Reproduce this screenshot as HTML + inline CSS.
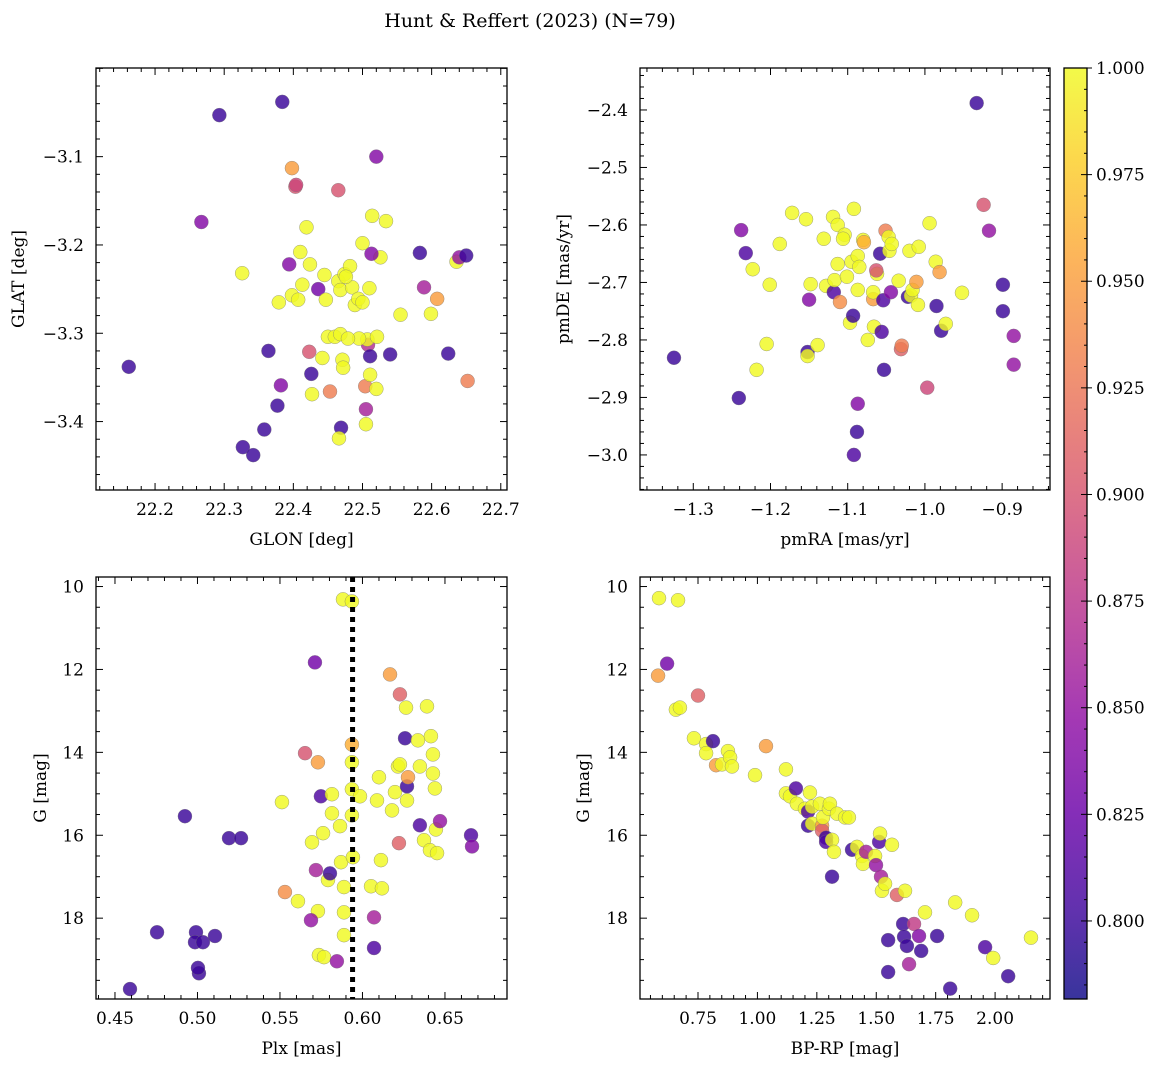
<!DOCTYPE html>
<html><head><meta charset="utf-8"><style>
html,body{margin:0;padding:0;background:#fff;}
svg{display:block;font-family:"DejaVu Serif","Liberation Serif",serif;}
</style></head><body>
<svg id="fig" width="1161" height="1067" viewBox="0 0 1161 1067" xmlns="http://www.w3.org/2000/svg">
<text x="530" y="27" font-size="19" text-anchor="middle">Hunt &amp; Reffert (2023) (N=79)</text>
</svg>
<script>
// Panel 1: GLON / GLAT
const glon=[22.162,22.293,22.384,22.267,22.326,22.398,22.403,22.404,22.394,22.379,22.398,22.407,22.410,22.413,22.419,22.424,22.436,22.445,22.447,22.465,22.465,22.468,22.474,22.482,22.485,22.476,22.450,22.460,22.468,22.453,22.471,22.472,22.423,22.426,22.427,22.442,22.382,22.377,22.364,22.358,22.327,22.342,22.469,22.466,22.505,22.505,22.504,22.511,22.520,22.508,22.511,22.507,22.540,22.520,22.514,22.526,22.534,22.513,22.510,22.500,22.489,22.495,22.521,22.555,22.583,22.589,22.599,22.608,22.636,22.640,22.650,22.624,22.652,22.494,22.479,22.500];
const glat=[-3.338,-3.053,-3.038,-3.174,-3.232,-3.113,-3.134,-3.132,-3.222,-3.265,-3.257,-3.262,-3.208,-3.245,-3.180,-3.222,-3.250,-3.234,-3.262,-3.138,-3.241,-3.251,-3.233,-3.224,-3.248,-3.236,-3.304,-3.304,-3.301,-3.366,-3.330,-3.339,-3.321,-3.346,-3.369,-3.328,-3.359,-3.382,-3.320,-3.409,-3.429,-3.438,-3.407,-3.419,-3.403,-3.386,-3.360,-3.347,-3.363,-3.313,-3.326,-3.307,-3.324,-3.100,-3.167,-3.214,-3.173,-3.210,-3.249,-3.198,-3.268,-3.306,-3.304,-3.279,-3.209,-3.248,-3.278,-3.261,-3.219,-3.214,-3.212,-3.323,-3.354,-3.261,-3.306,-3.265];
const prob1=[.80,.80,.80,.84,1,.95,.90,.89,.84,1,1,1,1,1,1,1,.83,1,1,.90,1,1,1,1,1,1,1,1,1,.93,1,1,.90,.80,1,1,.84,.80,.80,.80,.80,.80,.80,1,1,.86,.93,1,1,.87,.80,1,.80,.84,1,1,1,.84,1,1,1,1,1,1,.80,.86,1,.95,1,.85,.80,.80,.93,1,1,1];
// Panel 2: pmRA / pmDE
const pmra=[-1.325,-1.241,-1.238,-1.232,-1.223,-1.218,-1.205,-1.201,-1.188,-1.172,-1.154,-1.150,-1.148,-1.152,-1.152,-1.139,-1.131,-1.128,-1.119,-1.118,-1.117,-1.113,-1.113,-1.110,-1.104,-1.101,-1.106,-1.095,-1.097,-1.093,-1.092,-1.087,-1.087,-1.088,-1.092,-1.087,-1.080,-1.085,-1.079,-1.074,-1.067,-1.066,-1.062,-1.067,-1.063,-1.058,-1.056,-1.054,-1.051,-1.053,-1.047,-1.046,-1.043,-1.044,-1.034,-1.031,-1.030,-1.022,-1.020,-1.018,-1.016,-1.008,-1.011,-1.009,-0.997,-0.994,-0.986,-0.985,-0.981,-0.979,-0.973,-0.952,-0.933,-0.924,-0.917,-0.899,-0.899,-0.885,-0.885];
const pmde=[-2.831,-2.901,-2.609,-2.649,-2.677,-2.852,-2.807,-2.704,-2.633,-2.579,-2.590,-2.730,-2.703,-2.821,-2.828,-2.809,-2.624,-2.706,-2.586,-2.717,-2.696,-2.600,-2.668,-2.734,-2.617,-2.690,-2.624,-2.664,-2.770,-2.758,-2.572,-2.654,-2.713,-2.960,-3.000,-2.911,-2.626,-2.673,-2.630,-2.800,-2.729,-2.777,-2.685,-2.717,-2.679,-2.650,-2.786,-2.731,-2.610,-2.852,-2.621,-2.645,-2.633,-2.717,-2.697,-2.816,-2.810,-2.725,-2.645,-2.723,-2.713,-2.638,-2.699,-2.739,-2.883,-2.597,-2.664,-2.741,-2.682,-2.784,-2.772,-2.718,-2.388,-2.565,-2.610,-2.704,-2.750,-2.793,-2.843];
const prob2=[.80,.80,.84,.81,1,1,1,1,1,1,1,.84,1,.80,1,1,1,1,1,.81,1,1,1,.94,1,1,1,1,1,.80,1,1,1,.80,.81,.84,1,1,.96,1,.95,1,1,1,.90,.80,.81,.81,.93,.80,1,1,1,.84,1,.91,.93,.80,1,1,1,1,.95,1,.89,1,1,.80,.95,.80,1,1,.80,.90,.85,.80,.80,.85,.85];
// Panel 3: Plx / G
const plx=[.4591,.4755,.4924,.4991,.4985,.5009,.5003,.5033,.5106,.5191,.5264,.5512,.5530,.5609,.5652,.5712,.5730,.5748,.5761,.5694,.5718,.5730,.5688,.5736,.5767,.5791,.5803,.5815,.5815,.5864,.5870,.5845,.5882,.5888,.5888,.5888,.5936,.5936,.5936,.5936,.5936,.5942,.5985,.6052,.6070,.6070,.6088,.6100,.6112,.6118,.6167,.6179,.6197,.6215,.6227,.6221,.6227,.6264,.6258,.6270,.6270,.6276,.6336,.6348,.6348,.6373,.6391,.6415,.6427,.6427,.6439,.6409,.6452,.6445,.6470,.6658,.6664];
const gmag3=[19.71,18.34,15.54,18.34,18.58,19.33,19.20,18.58,18.43,16.07,16.07,15.20,17.37,17.59,14.02,11.83,14.24,15.06,15.95,16.17,16.84,17.83,18.05,18.89,18.94,17.08,16.92,15.01,15.47,15.78,16.65,19.04,10.31,17.25,17.86,18.41,10.36,13.81,14.24,14.89,15.52,16.53,15.06,17.23,17.98,18.72,15.16,14.60,16.60,17.28,12.12,15.40,14.96,14.34,14.29,16.19,12.60,12.92,13.66,14.82,15.16,14.60,13.71,14.34,15.76,16.12,12.89,13.61,14.05,14.51,14.87,16.36,16.43,15.86,15.66,16.00,16.27];
const prob3=[.80,.80,.80,.80,.80,.80,.80,.80,.80,.80,.80,1,.94,1,.90,.83,.95,.81,1,1,.86,1,.85,1,1,1,.80,1,1,1,1,.85,1,1,1,1,1,.96,1,1,1,1,1,1,.86,.81,1,1,1,1,.95,1,1,1,1,.91,.91,1,.80,.80,1,.95,1,1,.81,1,1,1,1,1,1,1,1,1,.85,.81,.84];
// Panel 4: BP-RP / G
const bprp=[.586,.666,.582,.620,.750,.657,.674,.733,.784,.813,.784,.826,.851,.876,.885,.893,.990,1.036,1.120,1.120,1.137,1.162,1.166,1.200,1.213,1.221,1.230,1.213,1.230,1.263,1.272,1.272,1.276,1.289,1.301,1.305,1.289,1.314,1.314,1.322,1.335,1.369,1.385,1.398,1.419,1.440,1.444,1.457,1.495,1.499,1.512,1.516,1.520,1.524,1.537,1.550,1.550,1.566,1.587,1.613,1.621,1.617,1.629,1.638,1.659,1.680,1.689,1.705,1.756,1.811,1.832,1.903,1.958,1.992,2.055,2.151];
const gmag4=[10.28,10.33,12.15,11.86,12.63,12.97,12.92,13.66,13.80,13.73,14.02,14.31,14.29,13.97,14.12,14.34,14.55,13.85,14.41,14.99,15.06,14.87,15.24,15.36,15.43,14.97,15.31,15.77,15.72,15.24,15.77,15.89,15.57,16.06,15.36,15.24,16.16,16.11,17.00,16.40,15.48,15.57,15.57,16.35,16.28,16.50,16.69,16.40,16.50,16.72,16.16,15.96,17.00,17.34,17.17,18.53,19.30,16.23,17.44,18.14,17.34,18.45,18.67,19.11,18.14,18.43,18.79,17.86,18.43,19.70,17.62,17.93,18.70,18.96,19.40,18.47];
const prob4=[1,1,.95,.83,.91,1,1,1,1,.80,1,.95,1,1,1,1,1,.95,1,1,1,.81,1,1,.81,1,1,.80,1,1,.95,.91,1,.80,1,1,.81,1,.80,1,1,1,1,.80,1,1,1,.86,1,.85,.81,1,.86,1,1,.80,.80,1,.91,.80,1,.80,.80,.86,.88,.84,.80,1,.80,.80,1,1,.81,1,.80,1];
const plxLine=0.594;
const cbMin=0.7817, cbMax=1.0;
const cbTicks=[0.800,0.825,0.850,0.875,0.900,0.925,0.950,0.975,1.000];

const NS="http://www.w3.org/2000/svg";
const svg=document.getElementById('fig');
function mk(tag,attrs,parent){const e=document.createElementNS(NS,tag);for(const k in attrs)e.setAttribute(k,attrs[k]);(parent||svg).appendChild(e);return e;}
const stops=['#0d0887','#41049d','#6a00a8','#8f0da4','#b12a90','#cc4778','#e16462','#f2844b','#fca636','#fcce25','#f0f921'];
function hex(h){return [parseInt(h.substr(1,2),16),parseInt(h.substr(3,2),16),parseInt(h.substr(5,2),16)];}
function plasma(t){t=Math.max(0,Math.min(1,t));const f=t*10,i=Math.min(9,Math.floor(f)),r=f-i;const a=hex(stops[i]),b=hex(stops[i+1]);return 'rgb('+a.map((v,k)=>Math.round(v+(b[k]-v)*r)).join(',')+')';}
function col(p){return plasma((p-cbMin)/(cbMax-cbMin));}
function fmt(v,d){return (v<0?'\u2212':'')+Math.abs(v).toFixed(d);}

function panel(cfg){
  const g=mk('g',{});
  
  
  const [L,T,R,B]=cfg.box;
  const sx=v=>L+(v-cfg.xd[0])/(cfg.xd[1]-cfg.xd[0])*(R-L);
  const sy=cfg.yinv?(v=>T+(v-cfg.yd[0])/(cfg.yd[1]-cfg.yd[0])*(B-T)):(v=>B-(v-cfg.yd[0])/(cfg.yd[1]-cfg.yd[0])*(B-T));
  const cp='clip-'+cfg.name;
  const cl=mk('clipPath',{id:cp},g);mk('rect',{x:L,y:T,width:R-L,height:B-T},cl);
  const pts=mk('g',{'clip-path':'url(#'+cp+')'},g);
  
  
  for(let i=0;i<cfg.xs.length;i++){
    const c=mk('circle',{cx:sx(cfg.xs[i]),cy:sy(cfg.ys[i]),r:7,fill:col(cfg.ps[i]),'fill-opacity':0.82,stroke:'#777','stroke-width':0.5,'stroke-opacity':0.7},pts);
    
    
  }
  if(cfg.vline!==undefined){
    const ln=mk('line',{x1:sx(cfg.vline),x2:sx(cfg.vline),y1:T,y2:B,stroke:'#000','stroke-width':5,'stroke-dasharray':'5,5'},pts);
    
    
  }
  // ticks
  const tk=mk('g',{stroke:'#000','stroke-width':1},g);
  const eps=1e-9;
  for(let v=Math.ceil(cfg.xd[0]/cfg.xmin-eps)*cfg.xmin;v<=cfg.xd[1]+eps;v+=cfg.xmin){
    const x=sx(v);const major=Math.abs(v/cfg.xmaj-Math.round(v/cfg.xmaj))<1e-6;const len=major?7:4;
    mk('line',{x1:x,x2:x,y1:B,y2:B-len},tk);mk('line',{x1:x,x2:x,y1:T,y2:T+len},tk);
  }
  for(let v=Math.ceil(cfg.yd[0]/cfg.ymin-eps)*cfg.ymin;v<=cfg.yd[1]+eps;v+=cfg.ymin){
    const y=sy(v);const major=Math.abs(v/cfg.ymaj-Math.round(v/cfg.ymaj))<1e-6;const len=major?7:4;
    mk('line',{x1:L,x2:L+len,y1:y,y2:y},tk);mk('line',{x1:R,x2:R-len,y1:y,y2:y},tk);
  }
  mk('rect',{x:L,y:T,width:R-L,height:B-T,fill:'none',stroke:'#000','stroke-width':1.3},g);
  cfg.xt.forEach(v=>{const t=mk('text',{x:sx(v),y:B+25,'font-size':17,'text-anchor':'middle'},g);t.textContent=fmt(v,cfg.xdec);
    });
  cfg.yt.forEach(v=>{const t=mk('text',{x:L-12,y:sy(v)+6,'font-size':17,'text-anchor':'end'},g);t.textContent=fmt(v,cfg.ydec);
    });
  const xl=mk('text',{x:(L+R)/2,y:B+55,'font-size':17,'text-anchor':'middle'},g);xl.textContent=cfg.xlab;
  
  const yl=mk('text',{x:0,y:0,'font-size':17,'text-anchor':'middle',transform:'translate('+cfg.ylx+','+(T+B)/2+') rotate(-90)'},g);yl.textContent=cfg.ylab;
  
}
panel({name:'glon-glat-panel',box:[96,68,507,490],xd:[22.1146,22.709],yd:[-3.4775,-2.9996],xs:glon,ys:glat,ps:prob1,xmaj:0.1,xmin:0.02,ymaj:0.1,ymin:0.02,
  xt:[22.2,22.3,22.4,22.5,22.6,22.7],yt:[-3.1,-3.2,-3.3,-3.4],xdec:1,ydec:1,xlab:'GLON [deg]',ylab:'GLAT [deg]',ylx:24});
panel({name:'pm-panel',box:[640,68,1050,490],xd:[-1.369,-0.838],yd:[-3.061,-2.327],xs:pmra,ys:pmde,ps:prob2,xmaj:0.1,xmin:0.02,ymaj:0.1,ymin:0.02,
  xt:[-1.3,-1.2,-1.1,-1.0,-0.9],yt:[-2.4,-2.5,-2.6,-2.7,-2.8,-2.9,-3.0],xdec:1,ydec:1,xlab:'pmRA [mas/yr]',ylab:'pmDE [mas/yr]',ylx:569});
panel({name:'plx-g-panel',box:[96,577,507,999],xd:[0.4385,0.6876],yd:[9.77,19.95],yinv:true,xs:plx,ys:gmag3,ps:prob3,xmaj:0.05,xmin:0.01,ymaj:2,ymin:0.5,vline:plxLine,
  xt:[0.45,0.5,0.55,0.6,0.65],yt:[10,12,14,16,18],xdec:2,ydec:0,xlab:'Plx [mas]',ylab:'G [mag]',ylx:46});
panel({name:'cmd-panel',box:[640,577,1050,999],xd:[0.506,2.231],yd:[9.77,19.95],yinv:true,xs:bprp,ys:gmag4,ps:prob4,xmaj:0.25,xmin:0.05,ymaj:2,ymin:0.5,
  xt:[0.75,1.0,1.25,1.5,1.75,2.0],yt:[10,12,14,16,18],xdec:2,ydec:0,xlab:'BP-RP [mag]',ylab:'G [mag]',ylx:589});

// colorbar
(function(){
  const L=1064,R=1087,T=68,B=999;
  const g=mk('g',{});
  
  
  const sy=v=>B-(v-cbMin)/(cbMax-cbMin)*(B-T);
  const grad=mk('linearGradient',{id:'cbg',x1:0,y1:1,x2:0,y2:0},g);
  for(let i=0;i<=20;i++){mk('stop',{offset:i/20,'stop-color':plasma(i/20)},grad);}
  mk('rect',{x:L,y:T,width:R-L,height:B-T,fill:'url(#cbg)','fill-opacity':0.82},g);
  for(let v=0.785;v<=1.0001;v+=0.005){const y=sy(v);const major=Math.abs(v/0.025-Math.round(v/0.025))<1e-6;
    mk('line',{x1:R,x2:R-(major?6:3),y1:y,y2:y,stroke:'#000','stroke-width':1},g);}
  mk('rect',{x:L,y:T,width:R-L,height:B-T,fill:'none',stroke:'#000','stroke-width':1.3},g);
  cbTicks.forEach(v=>{mk('line',{x1:R,x2:R+5,y1:sy(v),y2:sy(v),stroke:'#000','stroke-width':1},g);
    const t=mk('text',{x:R+9,y:sy(v)+6,'font-size':17},g);t.textContent=v.toFixed(3);
    });
})();
</script>
</body></html>
